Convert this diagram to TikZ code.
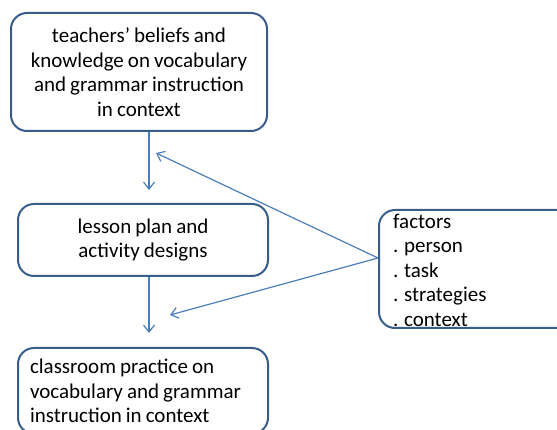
\documentclass[tikz,border=0pt]{standalone}
\usepackage{fontspec}
\setmainfont{Carlito}[WordSpace=0.85]
\usetikzlibrary{arrows.meta, positioning, calc}
\definecolor{boxFg}{RGB}{56, 93, 138}
\definecolor{arrowFg}{RGB}{74, 126, 187}
\newcommand{\boxFont}{\fontsize{21}{24.5}\selectfont}
\tikzstyle{arrow} = [line width=1.2pt, draw=arrowFg, -{Straight Barb[length=7pt,width=11pt]}]
\tikzstyle{basic} = [rectangle, rounded corners=16pt, line width=2pt, draw=boxFg, fill=white, text=black, font=\boxFont]

\begin{document}
\begin{tikzpicture}[x=1pt, y=-1pt]
\useasboundingbox (0,0) rectangle (557,430);
\clip (0,0) rectangle (557,430);

\node (beliefs) [basic, align=center, minimum width=256pt, minimum height=118pt, anchor=north west] at (10,12) {teachers’ beliefs and\\knowledge on vocabulary\\and grammar instruction\\in context};
\node (lesson) [basic, align=center, minimum width=250pt, minimum height=72pt, anchor=north west] at (17,203) {lesson plan and\\activity designs};
\node (practice) [basic, align=flush left, text width=226pt, inner xsep=12pt, inner ysep=11pt, anchor=north west] at (17,347) {classroom practice on\\vocabulary and grammar\\instruction in context};

\node (factors) [basic, minimum width=200pt, minimum height=118pt, anchor=north west] at (378,209) {};
\node (factorsText) [align=left, font=\boxFont, inner sep=0pt, anchor=north west, xshift=15pt, yshift=-4.5pt] at (factors.north west) {factors\\. person\\. task\\. strategies\\. context};

\coordinate (tipA) at (149,190);
\coordinate (tipB) at (149,333);
\coordinate (tipC) at (156,153);
\coordinate (tipD) at (170,315);
\coordinate (src) at ($(factors.west) + (0,-11)$);

\draw [arrow] (tipA |- beliefs.south) -- (tipA);
\draw [arrow] (tipB |- lesson.south) -- (tipB);
\draw [arrow] (src) -- (tipC);
\draw [arrow] (src) -- (tipD);

\end{tikzpicture}
\end{document}
